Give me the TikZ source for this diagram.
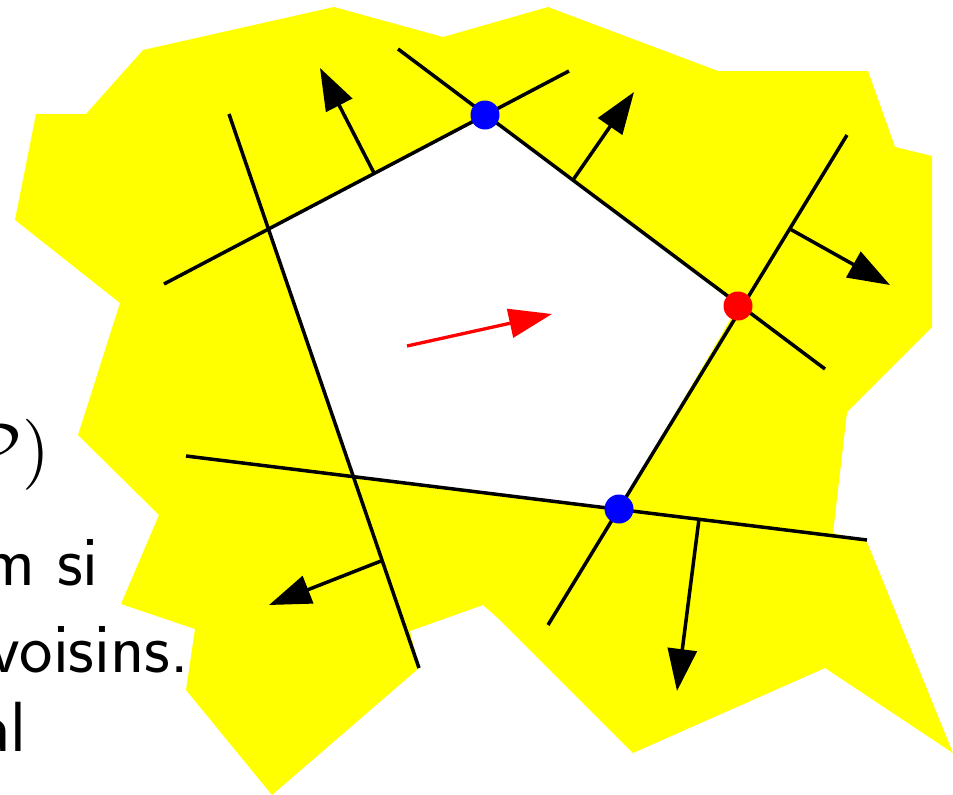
\documentclass[tikz,border=0pt]{standalone}
\usepackage{graphicx}
\usetikzlibrary{arrows.meta}
\definecolor{yel}{RGB}{255,255,0}
\definecolor{bl}{RGB}{0,0,255}
\definecolor{rd}{RGB}{255,0,0}
\tikzset{
  hline/.style={line width=3.5pt, black},
  normalarrow/.style={line width=3.5pt, black, -{Triangle[length=42pt,width=29pt]}},
  dirarrow/.style={line width=3.3pt, rd, -{Triangle[length=43pt,width=29pt]}},
  dot/.style={circle, fill=#1, minimum size=29pt, inner sep=0pt},
  bigtext/.style={inner sep=0pt, anchor=base east, font=\fontsize{71}{80}\selectfont\sffamily}
}
\begin{document}
\begin{tikzpicture}[x=1pt,y=-1pt]
\useasboundingbox (0,0) rectangle (953,795);
\clip (0,0) rectangle (953,795);
% yellow region
\fill[yel] (143,50) -- (334,7) -- (443,37) -- (548,7) -- (718,71) -- (868,71) -- (895,147) -- (932,156) -- (932,327) -- (847,412) -- (833,533) -- (867,542) -- (953,753) -- (825,668) -- (633,753) -- (500,620) -- (483,605) -- (410,631) -- (419,668) -- (272,795) -- (186,690) -- (195,629) -- (121,604) -- (159,515) -- (78,435) -- (120,303) -- (15,220) -- (36,114) -- (86,114) -- cycle;
% pentagon vertices
\coordinate (v1) at (268,229);
\coordinate (v2) at (485,115);
\coordinate (v3) at (738,306);
\coordinate (v4) at (619,509);
\coordinate (v5) at (353,477);
\fill[white] (v1) -- (v2) -- (v3) -- (v4) -- (v5) -- cycle;
% line end points
\coordinate (l1a) at (164,284); \coordinate (l1b) at (569,71);
\coordinate (l2a) at (398,49);  \coordinate (l2b) at (825,369);
\coordinate (l3a) at (847,135); \coordinate (l3b) at (548,625);
\coordinate (l4a) at (186,456); \coordinate (l4b) at (867,540);
\coordinate (l5a) at (229,114); \coordinate (l5b) at (419,668);
\draw[hline] (l1a) -- (l1b);
\draw[hline] (l2a) -- (l2b);
\draw[hline] (l3a) -- (l3b);
\draw[hline] (l4a) -- (l4b);
\draw[hline] (l5a) -- (l5b);
% normal arrows
\coordinate (a1s) at (374,173); \coordinate (a1t) at (320,68);
\coordinate (a2s) at (573,180); \coordinate (a2t) at (634,92);
\coordinate (a3s) at (790,229); \coordinate (a3t) at (890,285);
\coordinate (a4s) at (699,519); \coordinate (a4t) at (677,691);
\coordinate (a5s) at (381,561); \coordinate (a5t) at (269,605);
\draw[normalarrow] (a1s) -- (a1t);
\draw[normalarrow] (a2s) -- (a2t);
\draw[normalarrow] (a3s) -- (a3t);
\draw[normalarrow] (a4s) -- (a4t);
\draw[normalarrow] (a5s) -- (a5t);
% direction arrow
\coordinate (ds) at (407,346); \coordinate (dt) at (552,314);
\draw[dirarrow] (ds) -- (dt);
% dots
\node[dot=bl] (d1) at (v2) {};
\node[dot=rd] (d2) at (v3) {};
\node[dot=bl] (d3) at (v4) {};
% cut-off text
\node[inner sep=0pt, anchor=base east] (t0) at (50,472) {\scalebox{7.1}{$\mathcal{P})$}};
\node[bigtext] (t1) at (99,585) {m si};
\node[bigtext] (t2) at (189,672) {voisins.};
\node[bigtext] (t3) at (27,751) {al};
\end{tikzpicture}
\end{document}
